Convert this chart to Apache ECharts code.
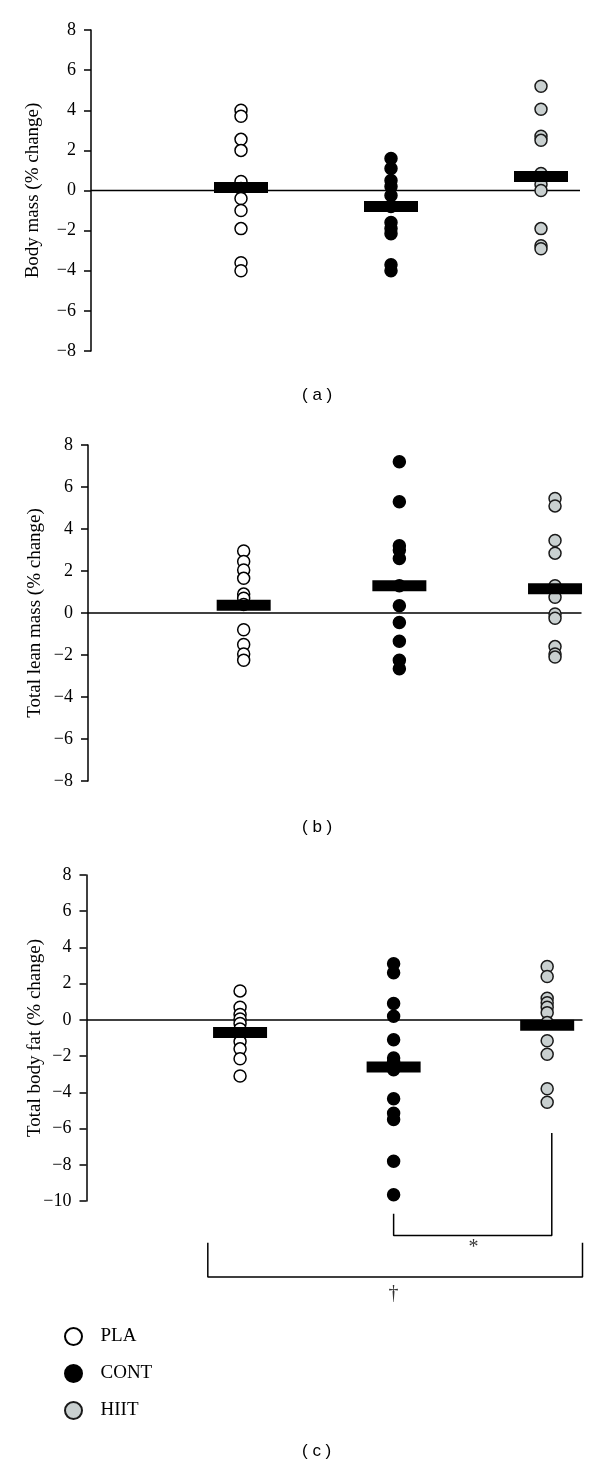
<!DOCTYPE html>
<html><head><meta charset="utf-8">
<script src="https://cdn.jsdelivr.net/npm/echarts@6/dist/echarts.min.js"></script>
<style>html,body{margin:0;padding:0;background:#fff}#c{width:600px;height:1477px}</style>
</head><body><div id="c"></div>
<script>
// ---------- data ----------
const groups = ['PLA', 'CONT', 'HIIT'];
const groupPos = [1, 2, 3];

// (a) Body mass (% change)
const bodyMassPLA  = [4.0, 3.7, 2.55, 2.0, 0.45, 0.1, -0.4, -1.0, -1.9, -3.6, -4.0];
const bodyMassCONT = [1.6, 1.1, 0.5, 0.2, -0.25, -0.8, -1.6, -1.9, -2.15, -3.7, -4.0];
const bodyMassHIIT = [5.2, 4.05, 2.7, 2.5, 0.85, 0.3, 0.0, -1.9, -2.75, -2.9];
const bodyMassMean = [0.15, -0.8, 0.7];

// (b) Total lean mass (% change)
const leanPLA  = [2.95, 2.45, 2.05, 1.65, 0.9, 0.7, 0.4, -0.8, -1.5, -1.95, -2.25];
const leanCONT = [7.2, 5.3, 3.2, 3.0, 2.6, 1.3, 0.35, -0.45, -1.35, -2.25, -2.65];
const leanHIIT = [5.45, 5.1, 3.45, 2.85, 1.3, 0.75, -0.05, -0.25, -1.6, -1.95, -2.1];
const leanMean = [0.37, 1.3, 1.15];

// (c) Total body fat (% change)
const fatPLA  = [1.6, 0.7, 0.3, 0.05, -0.2, -0.5, -0.8, -1.2, -1.6, -2.15, -3.1];
const fatCONT = [3.1, 2.6, 0.9, 0.2, -1.1, -2.1, -2.3, -2.75, -4.35, -5.15, -5.5, -7.8, -9.65];
const fatHIIT = [2.95, 2.4, 1.2, 0.95, 0.7, 0.4, -0.15, -1.15, -1.9, -3.8, -4.55];
const fatMean = [-0.7, -2.6, -0.3];

// y-axis ranges / tick step
const yRangeAB = [-8, 8];
const yRangeC = [-10, 8];
const yStep = 2;

// significance annotations for panel (c) (in data units)
const starBracket   = [[2, -10.7], [2, -11.9], [3.03, -11.9], [3.03, -6.25]];
const daggerBracket = [[0.79, -12.3], [0.79, -14.2], [3.23, -14.2], [3.23, -12.3]];
const starLabel   = [2.52, -12.6];
const daggerLabel = [2.0, -15.1];

const axisTitles = ['Body mass (% change)', 'Total lean mass (% change)', 'Total body fat (% change)'];
const panelLabels = ['( a )', '( b )', '( c )'];

// ---------- styles ----------
const SERIF = '"Liberation Serif", "Times New Roman", "DejaVu Serif", serif';
const SANS = '"Liberation Sans", Arial, sans-serif';
const groupStyle = {
  PLA:  { color: '#ffffff', borderColor: '#000000', borderWidth: 1.5, opacity: 1 },
  CONT: { color: '#000000', borderColor: '#000000', borderWidth: 1.5, opacity: 1 },
  HIIT: { color: '#c9d0d0', borderColor: '#1a1a1a', borderWidth: 1.5, opacity: 1 }
};

const panels = [
  { grid: { left: 91, top: 30, width: 489, height: 321 }, xMax: 3.26, yr: yRangeAB, gap: 48,
    vals: [bodyMassPLA, bodyMassCONT, bodyMassHIIT], mean: bodyMassMean },
  { grid: { left: 88, top: 445, width: 493.5, height: 336 }, xMax: 3.17, yr: yRangeAB, gap: 43,
    vals: [leanPLA, leanCONT, leanHIIT], mean: leanMean },
  { grid: { left: 86.5, top: 875, width: 496, height: 326 }, xMax: 3.23, yr: yRangeC, gap: 41.5,
    vals: [fatPLA, fatCONT, fatHIIT], mean: fatMean }
];

const grids = [], xAxes = [], yAxes = [], series = [];
panels.forEach((p, i) => {
  grids.push(p.grid);
  xAxes.push({ type: 'value', gridIndex: i, min: 0, max: p.xMax, show: false });
  yAxes.push({
    type: 'value', gridIndex: i, min: p.yr[0], max: p.yr[1], interval: yStep,
    name: axisTitles[i], nameLocation: 'middle', nameRotate: 90, nameGap: p.gap,
    nameMoveOverlap: false,
    nameTextStyle: { fontFamily: SERIF, fontSize: 19, color: '#000' },
    axisLine: { show: true, lineStyle: { color: '#000', width: 1.5 } },
    axisTick: { show: true, length: 7, lineStyle: { color: '#000', width: 1.5 } },
    axisLabel: { fontFamily: SERIF, fontSize: 18, color: '#000', margin: 15,
      formatter: v => String(v).replace('-', '\u2212') },
    splitLine: { show: false }
  });
  // zero line
  series.push({
    type: 'line', xAxisIndex: i, yAxisIndex: i, data: [[0, 0], [p.xMax, 0]],
    symbol: 'none', silent: true, z: 1, lineStyle: { color: '#000', width: 1.5 }
  });
  groups.forEach((g, k) => {
    series.push({
      type: 'scatter', name: g, xAxisIndex: i, yAxisIndex: i, z: 2,
      symbol: 'circle', symbolSize: 12,
      itemStyle: groupStyle[g],
      data: p.vals[k].map(v => [groupPos[k], v])
    });
  });
  series.push({
    type: 'scatter', name: 'mean', xAxisIndex: i, yAxisIndex: i, z: 5,
    symbol: 'rect', symbolSize: [54, 11], itemStyle: { color: '#000', opacity: 1 }, silent: true,
    data: p.mean.map((m, k) => [groupPos[k], m])
  });
});

// brackets + significance marks (panel c)
[starBracket, daggerBracket].forEach(b => series.push({
  type: 'line', xAxisIndex: 2, yAxisIndex: 2, data: b, clip: false, symbol: 'none',
  silent: true, lineStyle: { color: '#000', width: 1.5 }, z: 3
}));
[[starLabel, '*'], [daggerLabel, '\u2020']].forEach(([pt, txt]) => series.push({
  type: 'scatter', xAxisIndex: 2, yAxisIndex: 2, clip: false, symbolSize: 0, silent: true,
  data: [pt],
  label: { show: true, position: 'inside', formatter: txt, fontFamily: SERIF, fontSize: 20, color: '#000' }
}));

const chart = echarts.init(document.getElementById('c'), null, { renderer: 'canvas' });
chart.setOption({
  animation: false,
  backgroundColor: '#fff',
  grid: grids, xAxis: xAxes, yAxis: yAxes, series: series,
  legend: {
    data: groups, orient: 'vertical', left: 59, top: 1322, itemGap: 18,
    itemWidth: 44, itemHeight: 17, icon: 'circle', selectedMode: false,
    textStyle: { fontFamily: SERIF, fontSize: 19, color: '#000' }
  },
  graphic: [
    { type: 'text', left: 302, top: 387, style: { text: panelLabels[0], font: '17px ' + SANS, fill: '#000' } },
    { type: 'text', left: 302, top: 819, style: { text: panelLabels[1], font: '17px ' + SANS, fill: '#000' } },
    { type: 'text', left: 302, top: 1443, style: { text: panelLabels[2], font: '17px ' + SANS, fill: '#000' } }
  ]
});
</script></body></html>
